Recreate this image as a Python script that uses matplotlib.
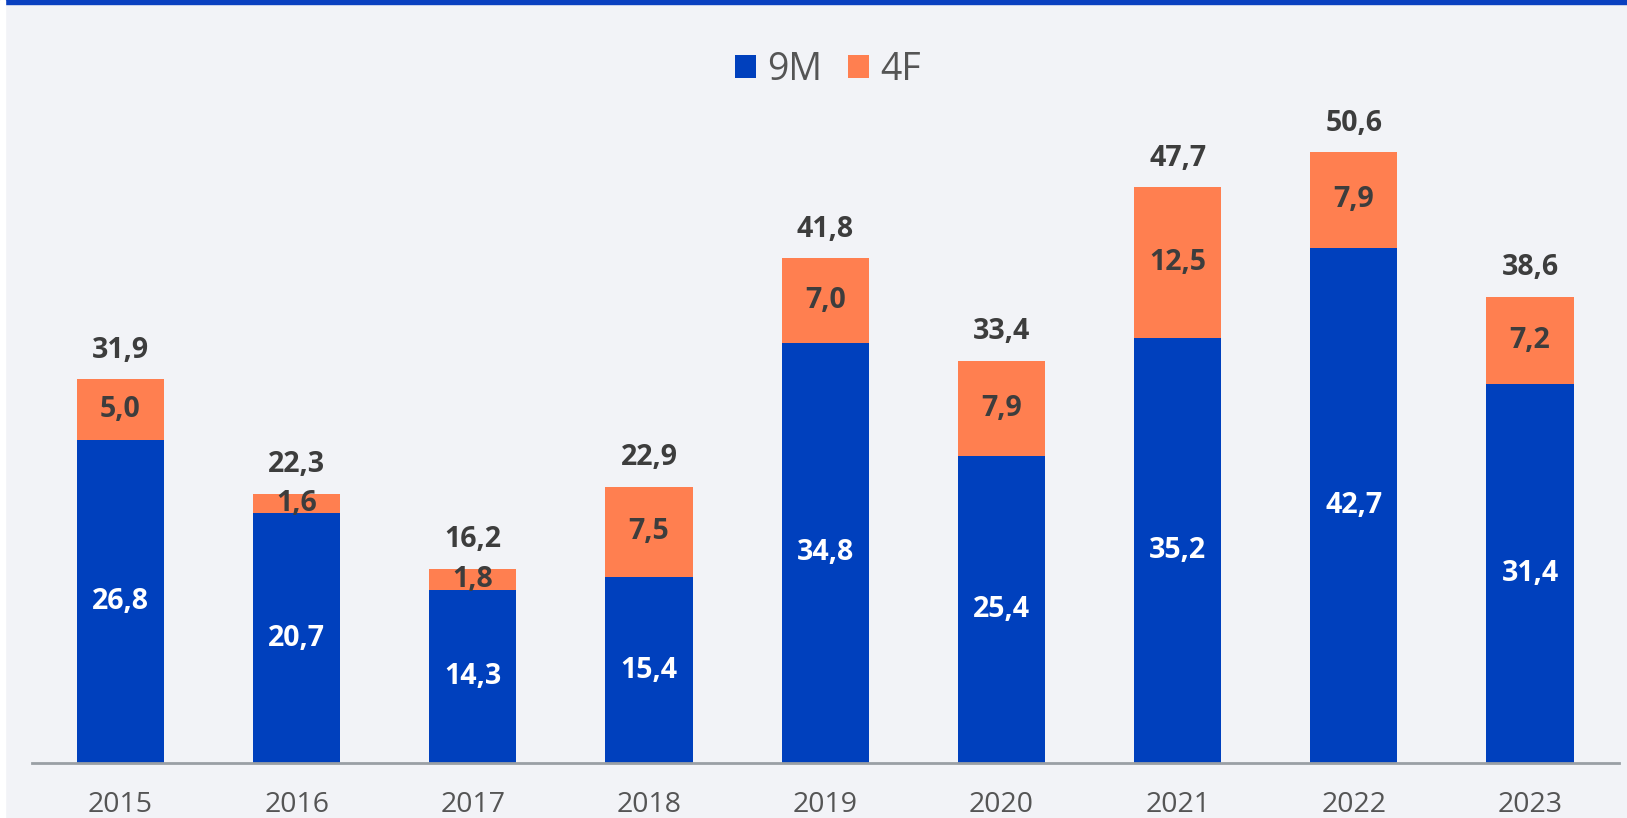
import matplotlib.pyplot as plt
import numpy as np
from matplotlib.patches import Rectangle

plt.rcParams["font.family"] = ["Open Sans", "DejaVu Sans"]

years = ["2015", "2016", "2017", "2018", "2019", "2020", "2021", "2022", "2023"]
nine_m = [26.8, 20.7, 14.3, 15.4, 34.8, 25.4, 35.2, 42.7, 31.4]
four_f = [5.0, 1.6, 1.8, 7.5, 7.0, 7.9, 12.5, 7.9, 7.2]
totals = [31.9, 22.3, 16.2, 22.9, 41.8, 33.4, 47.7, 50.6, 38.6]

blue = "#0040BD"
orange = "#FF7F50"
bg = "#F2F3F7"

W, H = 1627, 818
fig = plt.figure(figsize=(W / 100, H / 100), dpi=100)
fig.patch.set_facecolor(bg)

# top band and white left strip
fig.patches.append(Rectangle((0, 1 - 4 / H), 1, 4 / H, transform=fig.transFigure,
                             color="#0A40C0", zorder=0))
fig.patches.append(Rectangle((0, 0), 5 / W, 1, transform=fig.transFigure,
                             color="white", zorder=1))

base = 763
top = 100
ax = fig.add_axes([32 / W, (H - base) / H, (1619 - 32) / W, (base - top) / H])
ax.set_facecolor(bg)
ax.set_ylim(0, (base - top) / 12.07)
ax.set_xlim(-0.502, 8.505)

x = np.arange(len(years))
b1 = ax.bar(x, nine_m, width=0.495, color=blue, label="9M", zorder=2)
b2 = ax.bar(x, four_f, width=0.495, bottom=nine_m, color=orange, label="4F", zorder=2)

fmt = lambda v: f"{v:.1f}".replace(".", ",")
for i in range(len(years)):
    ax.text(x[i], nine_m[i] / 2, fmt(nine_m[i]), ha="center", va="center",
            color="white", fontsize=20.5, fontweight="bold", zorder=3)
    ax.text(x[i], nine_m[i] + four_f[i] / 2, fmt(four_f[i]), ha="center", va="center",
            color="#3d3d3d", fontsize=20.5, fontweight="bold", zorder=3)
    ax.annotate(fmt(totals[i]), (x[i], nine_m[i] + four_f[i]), xytext=(0, 21),
                textcoords="offset points", ha="center", va="center",
                color="#3d3d3d", fontsize=20.5, fontweight="bold")

ax.set_xticks(x)
ax.set_xticklabels(years, fontsize=20.5, color="#555555")
ax.tick_params(axis="x", length=0, pad=20)
ax.set_yticks([])
for s in ["top", "right", "left"]:
    ax.spines[s].set_visible(False)
ax.spines["bottom"].set_color("#9a9fa5")
ax.spines["bottom"].set_linewidth(2)
ax.spines["bottom"].set_zorder(3)

fig.legend(handles=[b1, b2], labels=["9M", "4F"], loc="center",
           bbox_to_anchor=(828 / W, 1 - 70 / H), ncol=2, frameon=False,
           fontsize=27, labelcolor="#555555", handlelength=0.55, handleheight=0.55,
           handletextpad=0.3, columnspacing=0.7)

fig.savefig("out.png", dpi=100, facecolor=fig.get_facecolor())
